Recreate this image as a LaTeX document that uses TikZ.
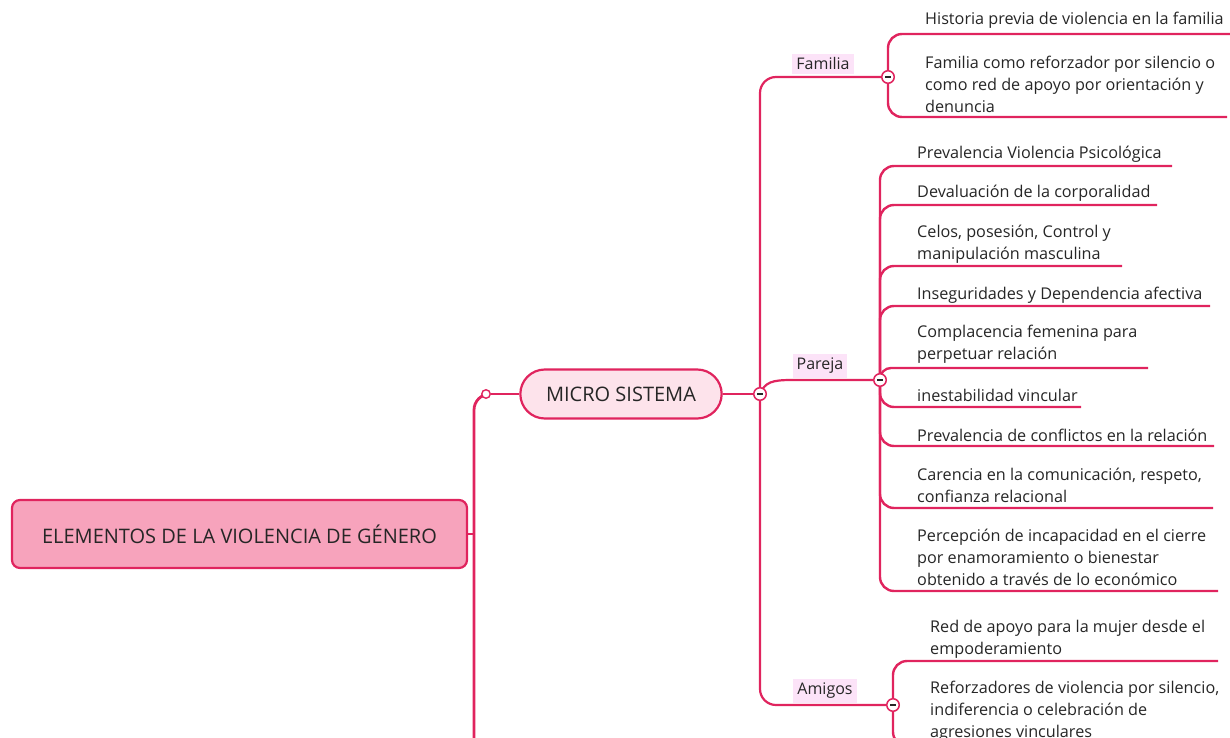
\documentclass[tikz,border=0pt]{standalone}
\usepackage{fontspec}
\setmainfont{Open Sans}
\usetikzlibrary{shapes.misc,backgrounds}
\definecolor{crim}{HTML}{E0245E}
\definecolor{rootfill}{HTML}{F7A3BC}
\definecolor{microfill}{HTML}{FDE3EB}
\definecolor{lblfill}{HTML}{FCE3F8}
\definecolor{txt}{HTML}{262626}
\tikzset{
  rootbox/.style={rectangle, rounded corners=8pt, draw=crim, line width=2.2pt, fill=rootfill,
    minimum width=455pt, minimum height=68pt, text=txt, font=\fontsize{20}{24}\selectfont},
  microbox/.style={rounded rectangle, draw=crim, line width=2.2pt, fill=microfill,
    minimum width=208pt, minimum height=49pt, text=txt, font=\fontsize{20}{24}\selectfont},
  lbl/.style={fill=lblfill, text=txt, font=\fontsize{16}{20}\selectfont, inner xsep=4pt, inner ysep=4pt},
  itemtxt/.style={anchor=west, align=left, inner sep=0pt, text=txt, font=\fontsize{16.2}{22}\selectfont},
  conn/.style={draw=crim, line width=2.8pt, rounded corners=16pt},
  subconn/.style={draw=crim, line width=2.2pt, rounded corners=16pt},
  itemline/.style={draw=crim, line width=2.4pt, rounded corners=14pt},
  toggle/.style={circle, draw=crim, fill=white, line width=1.5pt, minimum size=12.5pt, inner sep=0pt,
    path picture={\draw[txt, line width=1.5pt] ([xshift=-3pt]path picture bounding box.center) -- ([xshift=3pt]path picture bounding box.center);}},
  opencirc/.style={circle, draw=crim, fill=white, line width=1.4pt, minimum size=8.5pt, inner sep=0pt}
}
\begin{document}
\begin{tikzpicture}[x=1pt,y=-1pt]
\useasboundingbox (0,0) rectangle (1230,738);
\clip (0,0) rectangle (1230,738);

% main nodes
\node[rootbox] (root) at (239.5,534) {ELEMENTOS DE LA VIOLENCIA DE GÉNERO};
\node[microbox] (micro) at (621,394) {MICRO SISTEMA};
\node[opencirc] (oc) at (486,394) {};
\node[toggle] (m2) at (760,394) {};

% second level labels and toggles
\node[lbl] (familia) at (823,64) {Familia};
\node[lbl] (pareja) at (820,366) {Pareja};
\node[lbl] (amigos) at (825,691) {Amigos};
\node[toggle] (ft) at (888,77) {};
\node[toggle] (pt) at (880,380) {};
\node[toggle] (at) at (893,705) {};

% coordinates for the root spine
\coordinate (rj) at (474,534);
\coordinate (rb) at (474,760);

% Familia items
\node[itemtxt] (f1) at (925,20.5) {Historia previa de violencia en la familia};
\node[itemtxt] (f2) at (925,84) {Familia como reforzador por silencio o\\como red de apoyo por orientación y\\denuncia};
\coordinate (f1e) at (1232,34);
\coordinate (f2e) at (1227,117);

% Pareja items
\node[itemtxt] (p1) at (917,154) {Prevalencia Violencia Psicológica};
\node[itemtxt] (p2) at (917,193) {Devaluación de la corporalidad};
\node[itemtxt] (p3) at (917,244) {Celos, posesión, Control y\\manipulación masculina};
\node[itemtxt] (p4) at (917,295) {Inseguridades y Dependencia afectiva};
\node[itemtxt] (p5) at (917,344) {Complacencia femenina para\\perpetuar relación};
\node[itemtxt] (p6) at (917,395) {inestabilidad vincular};
\node[itemtxt] (p7) at (917,435) {Prevalencia de conflictos en la relación};
\node[itemtxt] (p8) at (917,485) {Carencia en la comunicación, respeto,\\confianza relacional};
\node[itemtxt] (p9) at (917,557.5) {Percepción de incapacidad en el cierre\\por enamoramiento o bienestar\\obtenido a través de lo económico};
\coordinate (p1e) at (1172,166);
\coordinate (p2e) at (1157,205);
\coordinate (p3e) at (1122,266);
\coordinate (p4e) at (1210,306);
\coordinate (p5e) at (1148,368);
\coordinate (p6e) at (1081,407);
\coordinate (p7e) at (1214,446);
\coordinate (p8e) at (1213,508);
\coordinate (p9e) at (1218,591);

% Amigos items
\node[itemtxt] (a1) at (930,639) {Red de apoyo para la mujer desde el\\empoderamiento};
\node[itemtxt] (a2) at (930,711) {Reforzadores de violencia por silencio,\\indiferencia o celebración de\\agresiones vinculares};
\coordinate (a1e) at (1218,661);
\coordinate (a2e) at (1225,746);

\begin{scope}[on background layer]
  % root spine
  \draw[conn] (root.east) -- (rj);
  \draw[conn] (rb) |- (oc.center);
  \draw[conn] (oc) -- (micro.west);
  \draw[conn] (micro.east) -- (m2.center);
  % second level
  \draw[subconn] (m2.center) |- (ft.center);
  \draw[subconn] (m2.center) |- (at.center);
  \draw[subconn, rounded corners=0pt] (m2.center) .. controls (765,382) and (772,380) .. (792,380) -- (pt.center);
  % Familia
  \draw[itemline] (ft.center) |- (f1e);
  \draw[itemline] (ft.center) |- (f2e);
  % Pareja
  \draw[itemline] (pt.center) |- (p1e);
  \draw[itemline] (pt.center) |- (p2e);
  \draw[itemline] (pt.center) |- (p3e);
  \draw[itemline] (pt.center) |- (p4e);
  \draw[itemline, rounded corners=11pt] (pt.center) |- (p5e);
  \draw[itemline] (pt.center) |- (p6e);
  \draw[itemline] (pt.center) |- (p7e);
  \draw[itemline] (pt.center) |- (p8e);
  \draw[itemline] (pt.center) |- (p9e);
  % Amigos
  \draw[itemline] (at.center) |- (a1e);
  \draw[itemline] (at.center) |- (a2e);
\end{scope}
\end{tikzpicture}
\end{document}
